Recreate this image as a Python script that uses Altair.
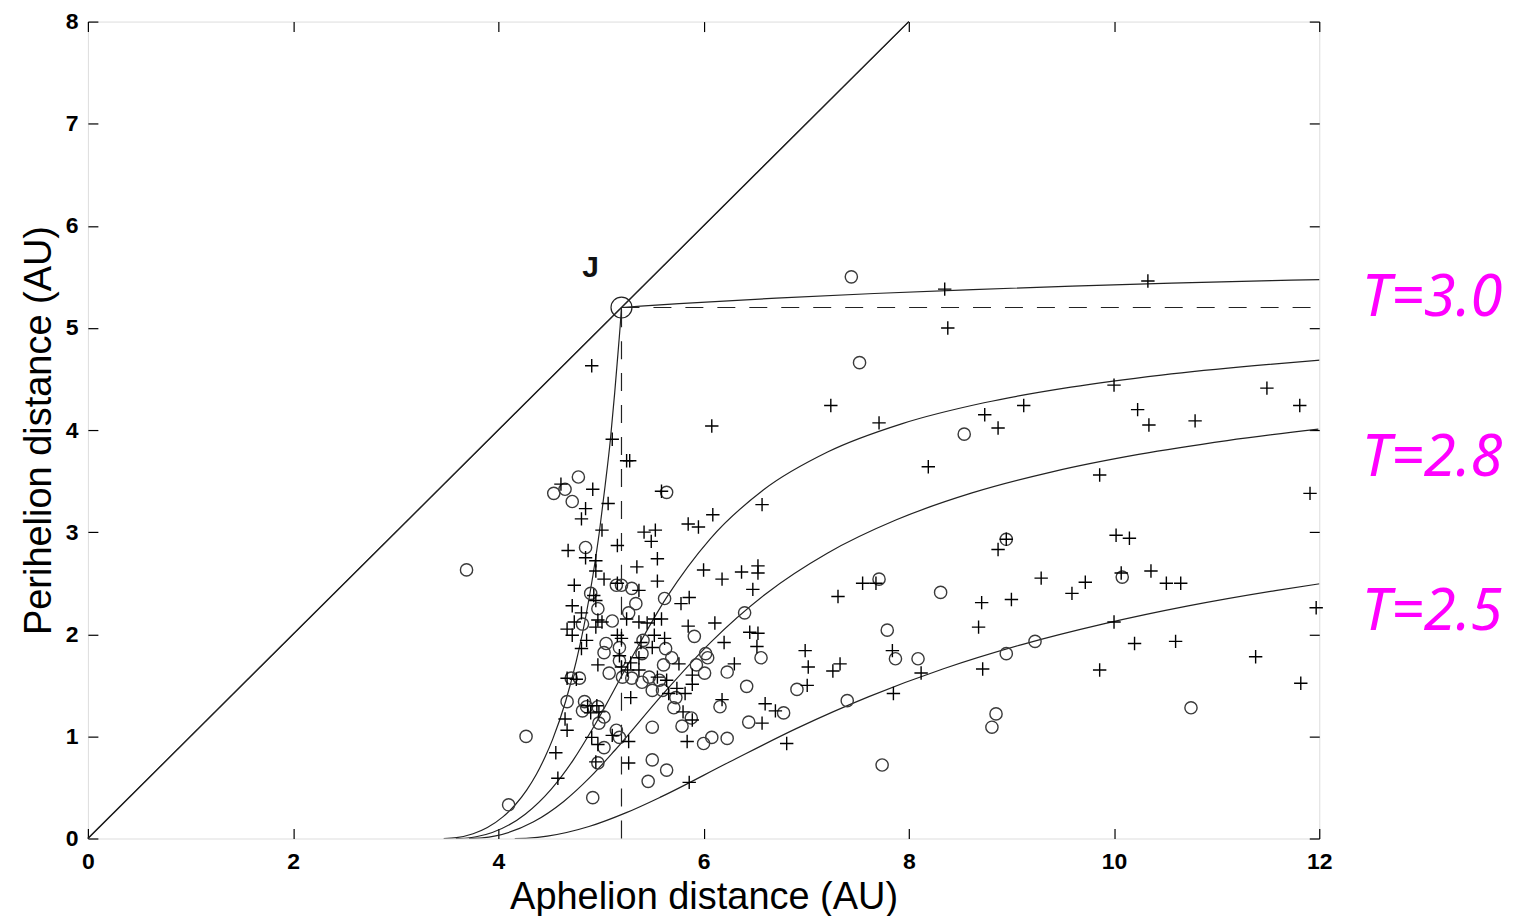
import altair as alt
import pandas as pd

# ---- scatter points: aphelion Q (x), perihelion q (y) ----
plus_x = [8.35, 10.33, 8.38, 4.91, 7.24, 7.71, 6.08, 8.74, 8.87, 9.12, 10.00, 10.23, 10.34, 10.79, 11.49, 11.81,
          8.19, 9.86, 11.91, 6.57, 8.95, 8.87, 10.02, 10.15, 9.29, 9.72, 9.59, 10.07, 10.36, 10.51, 10.65, 9.00,
          8.71, 8.68, 11.97, 10.00, 10.20, 10.60, 11.38, 8.72, 9.86, 11.82, 6.09, 5.85, 5.95, 6.00, 6.18, 6.37,
          6.53, 6.53, 6.48, 5.86, 5.78, 7.55, 7.68, 7.31, 7.84, 8.12, 6.99, 7.02, 7.33, 7.26, 5.85, 6.11, 6.20,
          6.45, 6.53, 6.52, 6.30, 5.89, 7.01, 5.89, 5.82, 6.18, 6.60, 6.70, 6.57, 5.80, 5.89, 5.84, 6.81, 7.85,
          5.86, 5.53, 5.49, 5.55, 5.55, 5.59, 5.52, 5.76, 5.52, 5.62, 5.55, 5.64, 4.61, 4.92, 4.85, 4.81, 5.07,
          5.01, 4.68, 4.85, 4.95, 5.16, 5.25, 5.28, 5.42, 5.35, 5.11, 5.59, 4.95, 4.74, 5.03, 5.16, 5.37, 4.72,
          4.81, 4.95, 4.97, 4.74, 4.67, 4.95, 5.01, 5.25, 5.37, 4.72, 4.86, 4.81, 5.20, 5.18, 4.97, 5.29, 5.26,
          5.37, 5.39, 5.50, 5.37, 5.29, 5.66, 5.74, 4.67, 4.76, 4.65, 4.67, 4.56, 4.58, 4.87, 4.96, 4.91, 4.97,
          4.95, 5.11, 5.27, 5.27, 4.90, 4.98, 4.93, 5.20, 5.16, 5.45]
plus_y = [5.38, 5.46, 5.00, 4.63, 4.24, 4.07, 4.04, 4.15, 4.02, 4.24, 4.44, 4.20, 4.05, 4.09, 4.41, 4.24,
          3.64, 3.56, 3.38, 3.27, 2.93, 2.83, 2.97, 2.94, 2.55, 2.51, 2.40, 2.60, 2.62, 2.50, 2.50, 2.34,
          2.31, 2.07, 2.26, 2.12, 1.91, 1.93, 1.78, 1.66, 1.65, 1.52, 3.17, 3.08, 3.05, 2.63, 2.54, 2.61,
          2.67, 2.60, 2.44, 2.36, 2.30, 2.50, 2.50, 2.37, 1.84, 1.62, 1.84, 1.68, 1.71, 1.64, 2.08, 2.11, 1.92,
          2.02, 2.01, 1.88, 1.71, 1.60, 1.50, 1.51, 1.42, 1.36, 1.32, 1.25, 1.13, 1.24, 1.16, 0.95, 0.93, 1.42,
          0.55, 3.02, 2.91, 2.74, 2.52, 2.15, 2.15, 1.71, 1.99, 1.96, 1.58, 1.55, 3.47, 3.42, 3.23, 3.13, 3.28,
          3.02, 2.82, 2.75, 2.72, 2.87, 3.70, 3.70, 3.00, 2.66, 3.91, 3.40, 2.62, 2.48, 2.54, 2.50, 2.43, 2.28,
          2.21, 2.33, 2.14, 2.12, 2.05, 2.07, 2.12, 2.15, 2.12, 1.99, 1.94, 1.86, 1.96, 1.79, 1.70, 1.72, 1.65,
          1.77, 1.92, 1.87, 1.65, 1.38, 1.42, 1.47, 1.57, 1.56, 1.17, 1.06, 0.84, 0.59, 1.30, 1.30, 0.99, 0.92,
          0.75, 1.01, 0.95, 0.74, 1.23, 1.24, 2.38, 1.68, 1.99, 2.11]

circ_x = [7.44, 7.52, 8.54, 8.95, 10.08, 7.71, 8.31, 9.23, 8.95, 10.75, 8.85, 8.81, 7.79, 7.87, 8.09, 7.40,
          7.74, 6.91, 6.42, 6.40, 6.56, 5.91, 6.02, 6.04, 6.23, 5.93, 6.01, 6.16, 6.78, 6.44, 5.88, 5.79,
          6.00, 6.08, 6.23, 5.64, 5.62, 5.63, 5.69, 5.61, 5.73, 5.71, 5.50, 4.78, 4.54, 4.65, 4.72, 4.85,
          3.69, 5.15, 5.30, 4.90, 5.34, 4.97, 4.82, 5.11, 5.27, 5.05, 5.03, 5.18, 5.18, 5.08, 5.21, 5.30,
          5.41, 5.40, 5.50, 5.60, 5.50, 5.64, 5.46, 4.71, 4.79, 4.67, 4.27, 4.10, 4.84, 4.86, 4.82, 4.97,
          5.03, 4.98, 5.03, 4.97, 5.15, 5.18, 4.92, 5.47, 5.57, 5.40, 5.20]
circ_y = [5.50, 4.66, 3.96, 2.93, 2.56, 2.54, 2.41, 1.93, 1.81, 1.28, 1.22, 1.09, 2.04, 1.76, 1.76, 1.35,
          0.72, 1.46, 1.49, 2.21, 1.77, 1.98, 1.81, 1.77, 1.63, 1.70, 1.62, 1.29, 1.23, 1.14, 1.18, 1.10,
          0.93, 0.99, 0.98, 3.39, 2.35, 1.86, 1.77, 1.70, 1.38, 1.28, 1.09, 3.54, 3.38, 3.42, 3.30, 2.85,
          2.63, 2.48, 2.45, 2.40, 2.30, 2.25, 2.10, 2.13, 2.21, 1.91, 1.82, 1.87, 1.74, 1.62, 1.58, 1.57,
          1.94, 1.53, 1.45, 1.45, 0.77, 0.67, 0.56, 1.57, 1.57, 1.34, 1.00, 0.33, 1.34, 1.29, 1.25, 1.29,
          1.19, 1.13, 0.89, 0.74, 1.06, 0.99, 0.40, 1.58, 1.55, 1.81, 2.48]

# ---- Tisserand curves ----
t30a_x = [3.467, 3.592, 3.754, 3.893, 4.041, 4.167, 4.276, 4.371, 4.454, 4.529, 4.656, 4.760, 4.848, 4.922,
          4.986, 5.041, 5.092, 5.134, 5.172, 5.187, 5.200]
t30a_y = [0.000, 0.008, 0.046, 0.107, 0.209, 0.333, 0.474, 0.629, 0.796, 0.971, 1.344, 1.740, 2.152, 2.578,
          3.014, 3.459, 3.908, 4.366, 4.828, 5.014, 5.200]
t30b_x = [5.200, 5.387, 5.762, 6.708, 7.663, 8.624, 9.591, 10.562, 11.537, 12.026]
t30b_y = [5.200, 5.214, 5.238, 5.292, 5.337, 5.376, 5.409, 5.438, 5.463, 5.474]
t29_x = [3.586, 3.695, 3.783, 3.941, 4.262, 4.516, 4.731, 4.921, 5.275, 5.640, 6.065, 6.585, 7.213, 7.937,
         8.733, 9.580, 10.462, 11.369, 12.015]
t29_y = [0.000, 0.005, 0.017, 0.059, 0.238, 0.484, 0.770, 1.079, 1.726, 2.361, 2.935, 3.415, 3.787, 4.063,
         4.267, 4.420, 4.538, 4.631, 4.685]
t28_x = [3.714, 3.844, 3.974, 4.339, 4.637, 4.897, 5.136, 5.595, 6.074, 6.605, 7.206, 7.879, 8.616, 9.407,
         10.239, 11.103, 11.991]
t28_y = [0.000, 0.006, 0.026, 0.161, 0.363, 0.603, 0.864, 1.405, 1.926, 2.395, 2.794, 3.121, 3.384, 3.593,
         3.761, 3.897, 4.009]
t25_x = [4.160, 4.296, 4.477, 4.883, 5.247, 5.590, 6.251, 6.918, 7.611, 8.338, 9.102, 9.898, 10.723, 11.572,
         12.005]
t25_y = [0.000, 0.004, 0.023, 0.117, 0.253, 0.410, 0.749, 1.083, 1.389, 1.662, 1.899, 2.102, 2.278, 2.428,
         2.495]

diag_x = [0, 8]
diag_y = [0, 8]
dash_h_x = [5.2, 12]
dash_h_y = [5.2, 5.2]
dash_v_x = [5.2, 5.2]
dash_v_y = [0, 5.2]
jup_x = [5.2]
jup_y = [5.2]
jlabel_x = [4.9]
jlabel_y = [5.59]

t_labels = ["T=3.0", "T=2.8", "T=2.5"]
t_label_x = [13.1, 13.1, 13.1]
t_label_y = [5.28, 3.72, 2.21]

x_ticks = [0, 2, 4, 6, 8, 10, 12]
y_ticks = [0, 1, 2, 3, 4, 5, 6, 7, 8]

# ---- tables ----
plus_df = pd.DataFrame({"x": plus_x, "y": plus_y})
circ_df = pd.DataFrame({"x": circ_x, "y": circ_y})
curve_rows = []
for name, xs_, ys_ in [("t30a", t30a_x, t30a_y), ("t30b", t30b_x, t30b_y), ("t29", t29_x, t29_y),
                       ("t28", t28_x, t28_y), ("t25", t25_x, t25_y)]:
    for i, (a, b) in enumerate(zip(xs_, ys_)):
        curve_rows.append({"x": a, "y": b, "curve": name, "o": i})
curve_df = pd.DataFrame(curve_rows)
diag_df = pd.DataFrame({"x": diag_x, "y": diag_y})
dash_df = pd.DataFrame({"x": dash_h_x + dash_v_x, "y": dash_h_y + dash_v_y,
                        "seg": ["h", "h", "v", "v"], "o": [0, 1, 0, 1]})
jup_df = pd.DataFrame({"x": jup_x, "y": jup_y})
jlab_df = pd.DataFrame({"x": jlabel_x, "y": jlabel_y, "t": ["J"]})
tlab_df = pd.DataFrame({"x": t_label_x, "y": t_label_y, "t": t_labels})

FONT = "Liberation Sans"
xs = alt.Scale(domain=[0, 12], nice=False, zero=False)
ys = alt.Scale(domain=[0, 8], nice=False, zero=False)

x_bottom = alt.Axis(values=x_ticks, format="d", orient="bottom", offset=-10, tickSize=10, domain=False,
                    grid=False, labelFlush=False, labelFont=FONT, labelFontSize=23, labelFontWeight="bold",
                    labelColor="#000", labelPadding=12, tickColor="#000", tickWidth=1.2,
                    title="Aphelion distance (AU)", titleFont=FONT, titleFontSize=38,
                    titleFontWeight="normal", titleColor="#000", titlePadding=5)
y_left = alt.Axis(values=y_ticks, format="d", orient="left", offset=-10, tickSize=10, domain=False,
                  grid=False, labelFlush=False, labelFont=FONT, labelFontSize=23, labelFontWeight="bold",
                  labelColor="#000", labelPadding=10, tickColor="#000", tickWidth=1.2,
                  title="Perihelion distance (AU)", titleFont=FONT, titleFontSize=38,
                  titleFontWeight="normal", titleColor="#000", titlePadding=7)
x_top = alt.Axis(values=x_ticks, orient="top", offset=-10, tickSize=10, domain=False, grid=False,
                 labels=False, title=None, tickColor="#000", tickWidth=1.2)
y_right = alt.Axis(values=y_ticks, orient="right", offset=-10, tickSize=10, domain=False, grid=False,
                   labels=False, title=None, tickColor="#000", tickWidth=1.2)

frame = alt.Chart(diag_df).mark_line(color="#222", strokeWidth=1.2).encode(
    x=alt.X("x:Q", scale=xs, axis=x_bottom), y=alt.Y("y:Q", scale=ys, axis=y_left))
frame2 = alt.Chart(diag_df).mark_line(color="#222", strokeWidth=1.2).encode(
    x=alt.X("x:Q", scale=xs, axis=x_top), y=alt.Y("y:Q", scale=ys, axis=y_right))

curves = alt.Chart(curve_df).mark_line(color="#222", strokeWidth=1.2, interpolate="monotone", clip=True).encode(
    x=alt.X("x:Q", scale=xs, axis=None), y=alt.Y("y:Q", scale=ys, axis=None),
    detail="curve:N", order="o:Q")

dashes = alt.Chart(dash_df).mark_line(color="#222", strokeWidth=1.2, strokeDash=[18, 14]).encode(
    x=alt.X("x:Q", scale=xs, axis=None), y=alt.Y("y:Q", scale=ys, axis=None),
    detail="seg:N", order="o:Q")

circles = alt.Chart(circ_df).mark_point(shape="circle", size=150, filled=False, stroke="#3a3a3a",
                                         strokeWidth=1.4, opacity=1).encode(
    x=alt.X("x:Q", scale=xs, axis=None), y=alt.Y("y:Q", scale=ys, axis=None))

pluses = alt.Chart(plus_df).mark_point(shape="M-1,0L1,0M0,-1L0,1", size=180, filled=False, stroke="#000",
                                        strokeWidth=1.4, opacity=1).encode(
    x=alt.X("x:Q", scale=xs, axis=None), y=alt.Y("y:Q", scale=ys, axis=None))

jup = alt.Chart(jup_df).mark_point(shape="circle", size=440, filled=False, stroke="#222",
                                   strokeWidth=1.2, opacity=1).encode(
    x=alt.X("x:Q", scale=xs, axis=None), y=alt.Y("y:Q", scale=ys, axis=None))

jlab = alt.Chart(jlab_df).mark_text(font=FONT, fontSize=30, fontWeight="bold", color="#111",
                                    align="center", baseline="middle").encode(
    x=alt.X("x:Q", scale=xs, axis=None), y=alt.Y("y:Q", scale=ys, axis=None), text="t:N")

tlab = alt.Chart(tlab_df).mark_text(font="Noto Sans", fontSize=58, fontStyle="italic", color="#FF00FF",
                                    align="center", baseline="middle").encode(
    x=alt.X("x:Q", scale=xs, axis=None), y=alt.Y("y:Q", scale=ys, axis=None), text="t:N")

chart = alt.layer(frame, frame2, curves, dashes, circles, pluses, jup, jlab, tlab).resolve_axis(
    x="independent", y="independent"
).properties(
    width=1233, height=818,
    autosize=alt.AutoSizeParams(type="none"),
    padding={"left": 80, "top": 13, "right": 190, "bottom": 77},
).configure_view(stroke="#000", strokeWidth=1.3).configure(background="white")

chart.save("out.html", embed_options={"renderer": "svg", "actions": False})
